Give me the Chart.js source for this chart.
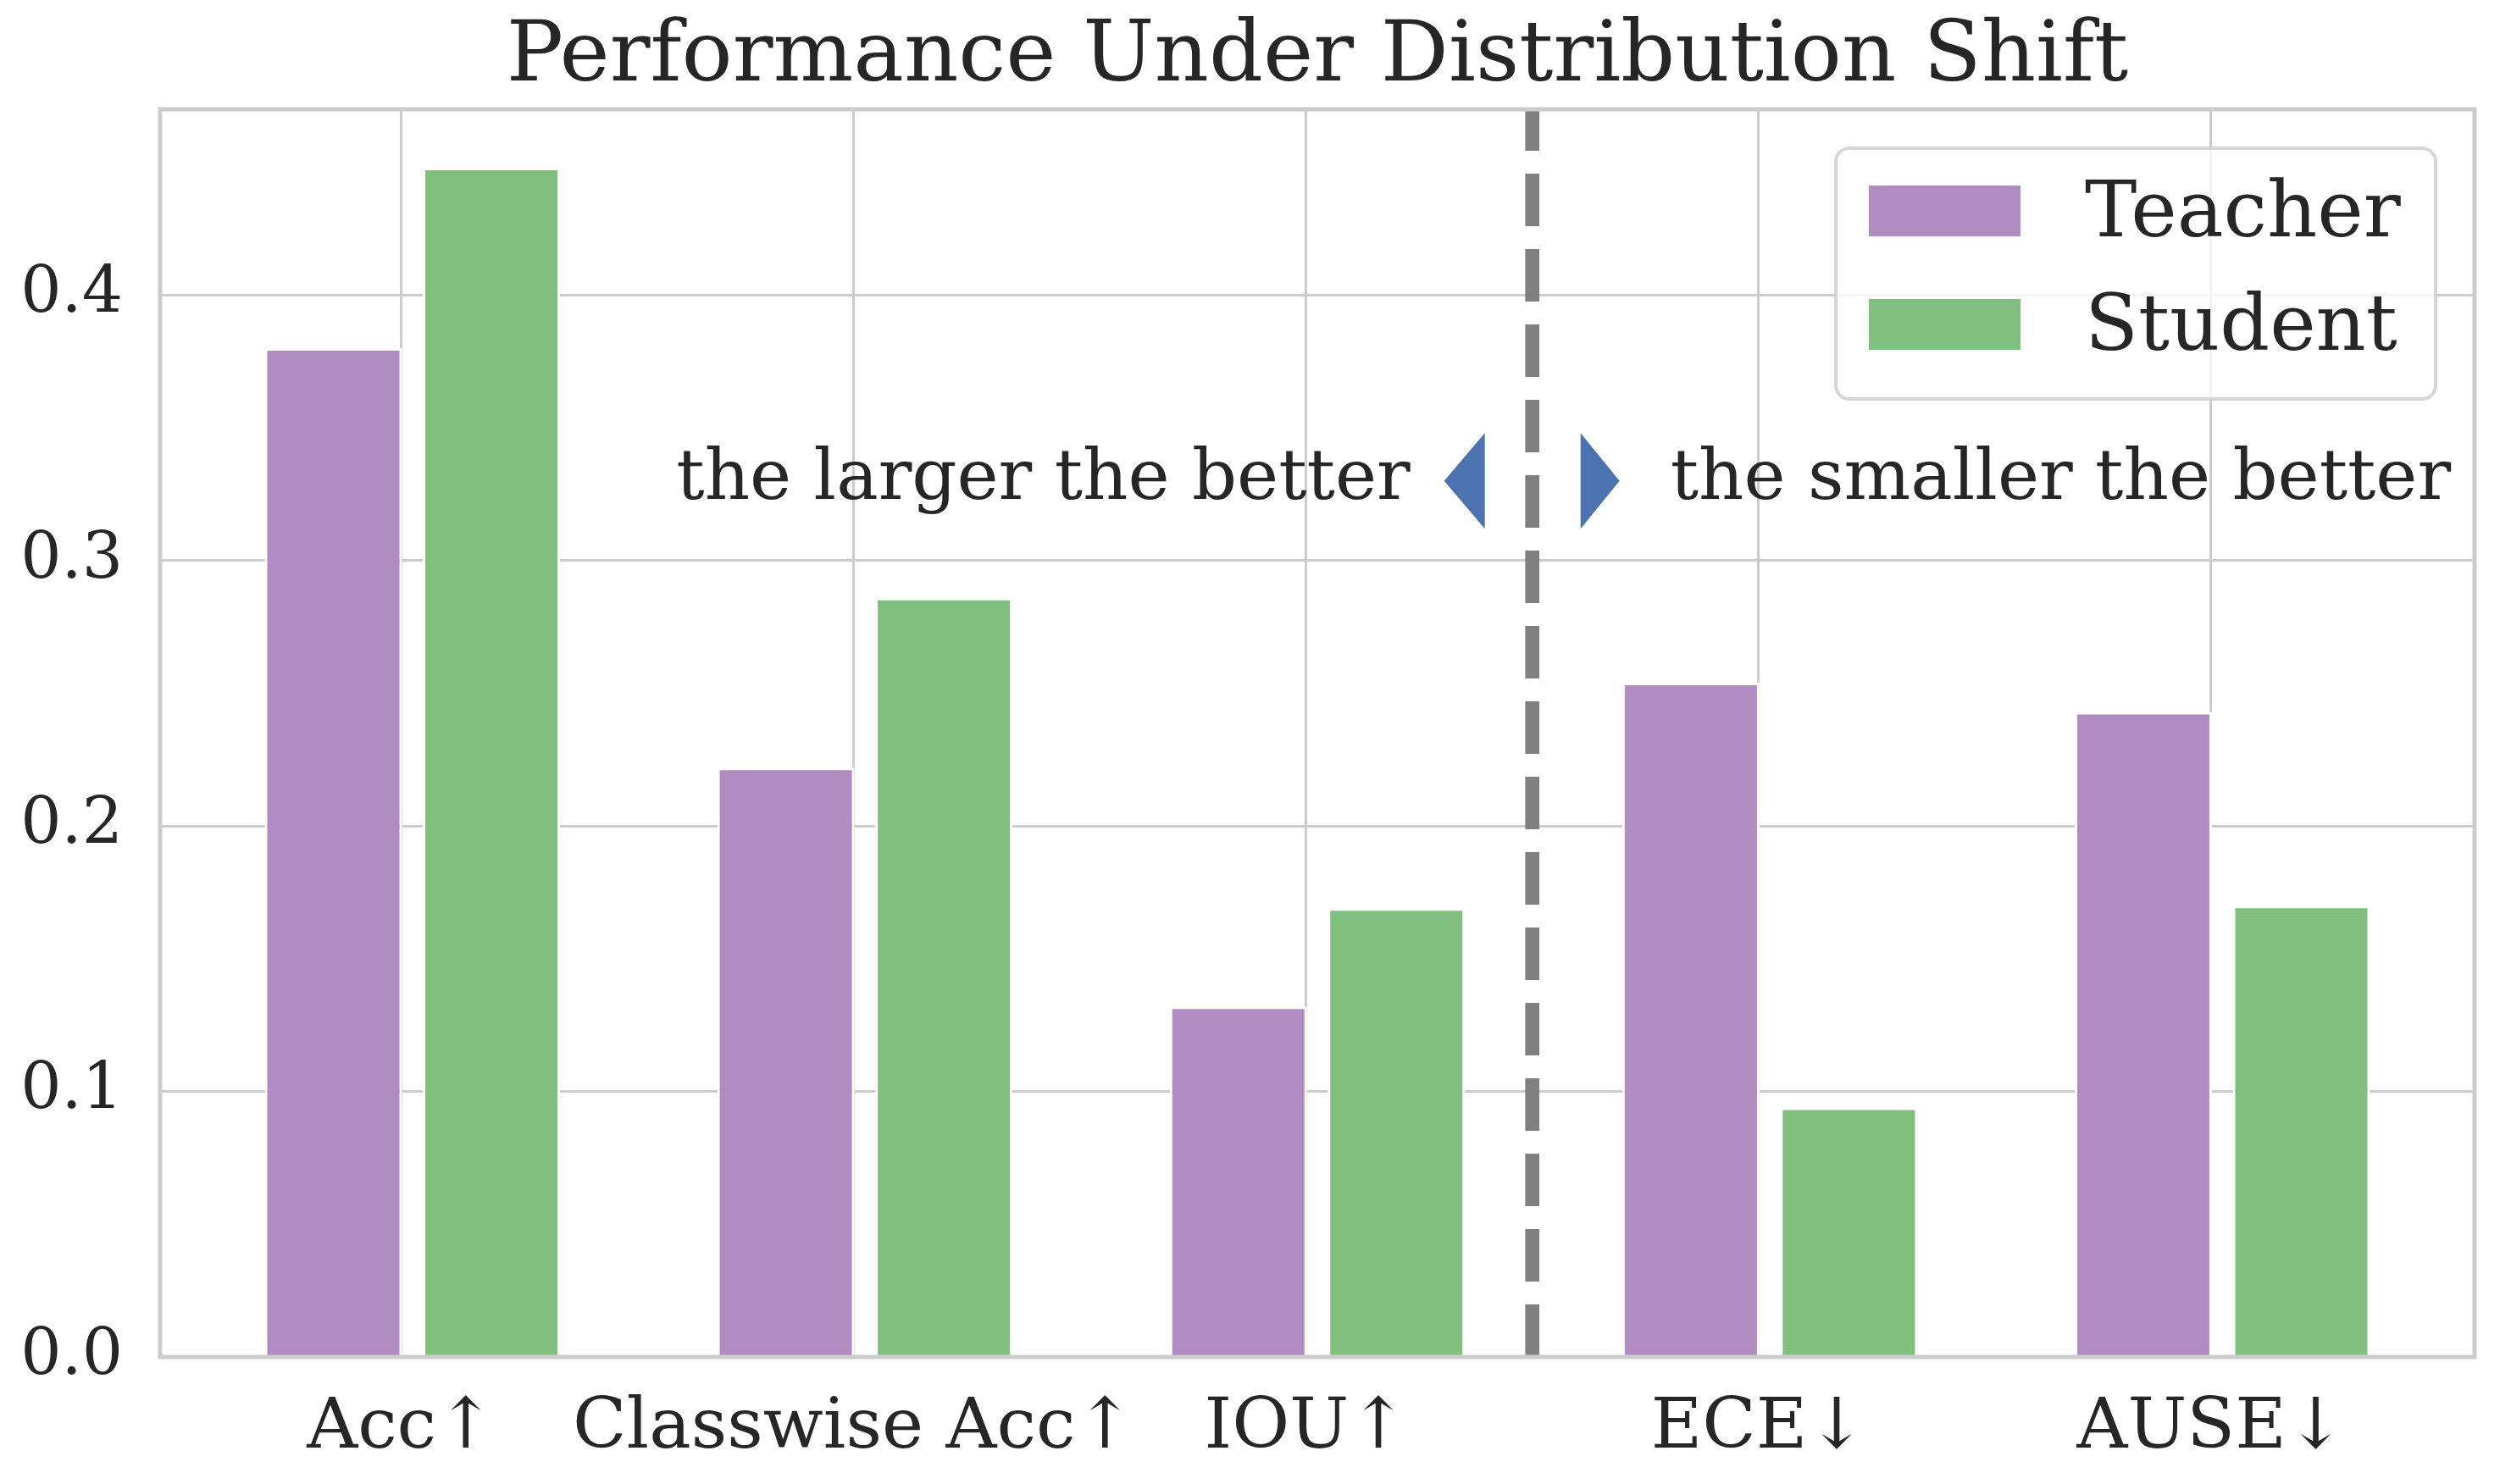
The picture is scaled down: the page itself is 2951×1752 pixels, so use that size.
<!DOCTYPE html>
<html>
<head>
<meta charset="utf-8">
<title>Performance Under Distribution Shift</title>
<script src="https://cdn.jsdelivr.net/npm/chart.js@4.4.1/dist/chart.umd.min.js"></script>
<style>
  html, body { margin: 0; padding: 0; background: #fff; }
  #wrap { width: 2951px; height: 1752px; }
</style>
</head>
<body>
<div id="wrap"><canvas id="shiftChart" width="2951" height="1752"></canvas></div>
<script>
// ============================================================
// DATA
// ============================================================
const categories = ['Acc↑', 'Classwise Acc↑', 'IOU↑', 'ECE↓', 'AUSE↓'];
const seriesNames = ['Teacher', 'Student'];
const teacherScores = [0.380, 0.222, 0.132, 0.254, 0.243];
const studentScores = [0.448, 0.286, 0.169, 0.094, 0.170];
const yTicks = [0.0, 0.1, 0.2, 0.3, 0.4];
const hintLabels = ['the larger the better', 'the smaller the better'];

// layout / style
const X_MIN = -0.5325, X_MAX = 4.5825, Y_MAX = 0.47;
const PAIR_SHIFT = 0.025;          // pair of bars sits slightly right of its tick
const DIVIDER_X = 2.5, HINT_Y = 0.33;
const FONT = '"DejaVu Serif", "Liberation Serif", serif';
const INK = '#262626';
const GRID = '#cccccc';
const COLORS = ['#b08cc1', '#80bf7d'];

// ============================================================
// OVERLAY: divider, frame, hint texts, arrowheads, legend
// ============================================================
const overlay = {
  id: 'overlay',
  afterDatasetsDraw(chart) {
    const { ctx, chartArea: a, scales: { x, y } } = chart;
    ctx.save();

    // dashed divider (pattern starts at the bottom like matplotlib)
    const dx = x.getPixelForValue(DIVIDER_X);
    ctx.strokeStyle = '#808080';
    ctx.lineWidth = 16.7;
    ctx.lineCap = 'butt';
    ctx.setLineDash([62, 27]);
    ctx.beginPath();
    ctx.moveTo(dx, a.bottom);
    ctx.lineTo(dx, a.top);
    ctx.stroke();
    ctx.setLineDash([]);

    // axes frame
    ctx.strokeStyle = GRID;
    ctx.lineWidth = 5;
    ctx.strokeRect(a.left, a.top, a.right - a.left, a.bottom - a.top);

    // hint texts
    const hy = y.getPixelForValue(HINT_Y);
    ctx.fillStyle = INK;
    ctx.font = `83px ${FONT}`;
    ctx.textBaseline = 'middle';
    ctx.textAlign = 'right';
    ctx.fillText(hintLabels[0], dx - 144, hy);
    ctx.textAlign = 'left';
    ctx.fillText(hintLabels[1], dx + 163, hy);

    // arrowheads
    ctx.fillStyle = '#4c72b0';
    const tri = (tip, back) => {
      ctx.beginPath();
      ctx.moveTo(tip, hy);
      ctx.lineTo(back, hy - 56.5);
      ctx.lineTo(back, hy + 56.5);
      ctx.closePath();
      ctx.fill();
    };
    tri(dx - 104, dx - 56);
    tri(dx + 103, dx + 57);

    // legend box (upper right)
    const bw = 708, bh = 296;
    const bx = a.right - 46 - bw, by = a.top + 46;
    ctx.beginPath();
    ctx.roundRect(bx, by, bw, bh, 16);
    ctx.fillStyle = 'rgba(255,255,255,0.8)';
    ctx.fill();
    ctx.strokeStyle = 'rgba(204,204,204,0.8)';
    ctx.lineWidth = 4;
    ctx.stroke();

    ctx.font = `92px ${FONT}`;
    ctx.textAlign = 'left';
    ctx.textBaseline = 'middle';
    chart.data.datasets.forEach((ds, i) => {
      const cy = by + 74 + i * 134;
      ctx.fillStyle = ds.backgroundColor;
      ctx.fillRect(bx + 39, cy - 30, 179, 60);
      ctx.fillStyle = INK;
      ctx.fillText(ds.label, bx + 294, cy + 6);
    });

    ctx.restore();
  },
};

// ============================================================
// CHART
// ============================================================
const toPoints = vals => vals.map((v, i) => ({ x: i + PAIR_SHIFT, y: v }));

new Chart(document.getElementById('shiftChart'), {
  type: 'bar',
  data: {
    datasets: [teacherScores, studentScores].map((vals, i) => ({
      label: seriesNames[i],
      data: toPoints(vals),
      backgroundColor: COLORS[i],
      borderColor: '#ffffff',
      borderWidth: 3,
      categoryPercentage: 0.6985,
      barPercentage: 0.8686,
    })),
  },
  options: {
    responsive: false,
    animation: false,
    devicePixelRatio: 1,
    layout: { padding: { left: 0, right: 30, top: 0, bottom: 0 } },
    plugins: {
      legend: { display: false },
      tooltip: { enabled: false },
      title: {
        display: true,
        text: 'Performance Under Distribution Shift',
        fullSize: false,
        color: INK,
        font: { family: FONT, size: 100, weight: 'normal' },
        padding: { top: 9, bottom: 0 },
      },
    },
    scales: {
      x: {
        type: 'linear',
        min: X_MIN,
        max: X_MAX,
        offset: false,
        afterBuildTicks: s => { s.ticks = categories.map((_, i) => ({ value: i })); },
        afterFit: s => { s.height = 150; },
        grid: { color: GRID, lineWidth: 3, drawTicks: false, offset: false },
        border: { display: false },
        ticks: {
          callback: v => categories[v],
          color: INK,
          font: { family: FONT, size: 83 },
          padding: 36,
          maxRotation: 0,
          autoSkip: false,
        },
      },
      y: {
        min: 0,
        max: Y_MAX,
        afterBuildTicks: s => { s.ticks = yTicks.map(v => ({ value: v })); },
        afterFit: s => { s.width = 189; },
        grid: { color: GRID, lineWidth: 3, drawTicks: false },
        border: { display: false },
        ticks: {
          callback: v => v.toFixed(1),
          color: INK,
          font: { family: FONT, size: 76 },
          padding: 44,
        },
      },
    },
  },
  plugins: [overlay],
});
</script>
</body>
</html>
